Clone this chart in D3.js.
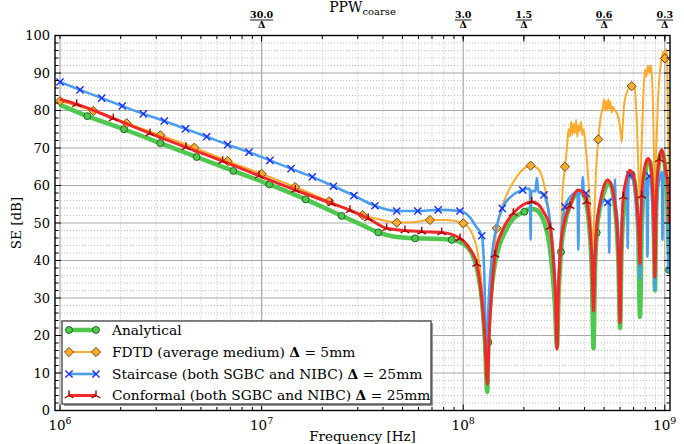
<!DOCTYPE html>
<html><head><meta charset="utf-8">
<script src="https://cdn.jsdelivr.net/npm/d3@7"></script>
<style>
body{margin:0;background:#fff}
svg{display:block}
text{font-family:"DejaVu Serif",serif;fill:#000}
</style>
</head><body><svg id="c" width="684" height="444"></svg>
<script>
// ---------------- DATA (frequency in MHz, SE in dB) ----------------
const yTicks = [0,10,20,30,40,50,60,70,80,90,100];
const xTickExps = [6,7,8,9];
const ppwTicks = [30.0, 3.0, 1.5, 0.6, 0.3];
const ppwLabels = ["30.0","3.0","1.5","0.6","0.3"];
const seriesNames = ["Analytical","FDTD (average medium) ","Staircase (both SGBC and NIBC) ","Conformal (both SGBC and NIBC) "];
const seriesSuffix = ["", " = 5mm", " = 25mm", " = 25mm"];

const analyticalLine = [[1,81.5],[1.366,78.5],[2.077,75.0],[3.145,71.3],[4.76,67.6],[7.24,63.9],[10.92,60.3],[16.55,56.3],[24.96,51.9],[30,50.0],[37.9,47.5],[45,46.4],[57.7,45.9],[70,45.8],[87.7,45.5],[100,44.5],[110,42],[118,37],[124,29],[128,19],[131.7,5],[133.2,18.2],[137,30],[143,38.5],[150,43.5],[160,47.2],[175,50.8],[201,53],[215,53.8],[228,53.6],[242,52.3],[255,49.5],[268,44],[278,36],[285,28],[292,17],[297,30],[305.5,42.3],[320,50],[340,55],[360,57.5],[378,58.3],[395,57.5],[412,54],[425,47],[435,36],[443,16.6],[450,36],[459.5,47.4],[475,53.5],[495,57.5],[515,60],[530,60.6],[545,59.5],[560,56],[575,50],[588,40],[600,22],[610,42],[625,53],[645,59.5],[665,62.5],[685,62.8],[705,61.5],[722,57],[738,47],[753,25],[768,48],[785,58],[805,64],[828,66.8],[850,66],[865,62],[880,50],[894,32],[905,52],[925,63],[945,68],[965,69],[985,68],[1010,63],[1035,52],[1050,37.5]];
const analyticalMarkers = [1.366,2.077,3.145,4.76,7.24,10.92,16.55,24.96,37.9,57.7,87.7,133.2,201,305.5,459.5,685,1050];

const fdtdLine = [[1,82.5],[1.463,79.9],[2.142,76.6],[3.145,73.4],[4.637,70.1],[6.79,66.5],[10.01,63.1],[14.65,59.6],[21.6,55.8],[31.7,52.1],[38,51],[46.8,50.1],[56,50.2],[68.4,50.8],[82,50.8],[100.1,49.9],[110,47.5],[118,42],[124,33],[128,22],[131.5,12],[135,25],[140,38],[146.6,48.6],[160,56],[180,61.5],[200,64.5],[216.1,65.3],[235,64.5],[250,61],[265,54],[278,44],[287,33],[296,22],[303,42],[310,57],[319.9,65],[327,70],[333,75],[338,73],[343,77],[348,73.5],[353,76.5],[358,74],[363,77.5],[368,73],[373,76],[378,74.5],[384,77],[390,73.5],[396,75],[402,72],[412,66],[422,58],[432,49],[440,43],[447,52],[455,63],[468,72.3],[480,78],[494,81],[500,83],[506,80],[512,82.5],[518,80],[524,83],[530,80.5],[537,82.5],[544,79.5],[552,81],[566,80],[582,79],[598,76],[605,74],[611,71.5],[617,75],[630,82],[650,85],[672,86.3],[685,86.5],[700,87],[712,85],[725,78],[740,64],[753,56],[765,68],[780,82],[797,91],[810,89],[825,92],[840,90],[852,92],[864,89],[875,80],[885,67],[894,57],[905,68],[925,83],[945,90],[965,94],[983,95.7],[1002,93.9],[1015,96.3],[1025,95],[1037,78],[1050,60]];
const fdtdMarkers = [1.0,1.463,2.142,3.145,4.637,6.79,10.01,14.65,21.6,31.7,46.8,68.4,100.1,146.6,216.1,319.9,468,685,1002];

const staircaseLine = [[1,87.6],[1.257,85.5],[1.61,83.3],[2.037,81.2],[2.59,79.1],[3.29,77.2],[4.2,75.1],[5.34,73],[6.79,70.9],[8.66,68.9],[11.0,66.7],[14.0,64.5],[17.84,62.3],[22.7,59.8],[28.7,57.3],[36.5,54.6],[46.8,53.2],[59.5,53.2],[75.2,53.5],[96.4,53.2],[108,51.5],[116,49],[123.6,46.6],[127,38],[130.5,14],[134,30],[140,43],[148,50],[156.3,53.9],[175,57.3],[197.3,58.8],[212,59.2],[214.5,58.5],[216,45.5],[217.5,58.5],[228,58.5],[232,62],[236,58.2],[244,58],[251.6,57.5],[262,54.5],[273,48],[282,40],[288,30],[292,20],[297,33],[305,45],[312,51],[319.9,54.3],[340,57],[362,58],[369,58],[372.4,42.8],[376,58],[388,58.2],[392,62.3],[396,58.2],[406.5,57.9],[418,54],[428,47],[436,38],[443,28],[449,40],[457,48],[470,53],[490,55.5],[505,56],[521,55.5],[526,56],[530,42],[534,56],[550,56.5],[562,56],[566,61.7],[570,55.5],[582,51],[592,42],[600,30],[607,44],[618,54],[635,59],[650,61],[655,43.3],[660,61.5],[672,62.8],[690,62],[710,58.5],[728,52],[742,45],[753,35],[762,47],[775,55],[795,59.5],[812,61.5],[820,41],[828,62],[837.6,62.5],[855,60],[870,54],[884,45],[894,32],[902,48],[915,57],[935,61],[955,63],[968,63.5],[974,45.5],[980,63.5],[1000,63],[1020,62],[1038,61],[1045,37],[1052,60],[1061,60.4]];
const staircaseMarkers = [1,1.257,1.61,2.037,2.59,3.29,4.2,5.34,6.79,8.66,11.0,14.0,17.84,22.7,28.7,36.5,46.8,59.5,75.2,96.4,123.6,156.3,197.3,251.6,319.9,406.5,521,672,837.6,1061];

const conformalLine = [[1,83.0],[1.21,81.7],[1.838,77.9],[2.795,73.9],[4.217,70.2],[6.41,66.5],[9.71,62.6],[14.7,58.8],[22.3,55.2],[27.45,53.4],[33.8,51.2],[41.7,48.6],[51.4,48],[62.3,47.7],[78.2,47.5],[96.4,45.9],[108,43],[116.7,39.1],[123,31],[128,20],[131.7,7],[135,22],[139,33],[143.8,41.5],[155,47.5],[177.3,52.6],[200,55],[218.7,55.7],[235,55],[250,53],[269.6,48.9],[280,40],[287,30],[292,16.4],[297,32],[305,44],[320,51],[338.6,54.5],[355,57.5],[371,58.8],[390,58.3],[410,55.7],[425,49],[435,40],[443,26.5],[450,40],[460,49],[480,56],[500,60],[520,61.5],[540,60.5],[560,57],[578,50],[592,38],[600,23.4],[608,42],[622.6,57],[640,61],[670,64.1],[700,62.5],[725,56],[742,48],[753,39],[760,50],[768,57.3],[785,63],[810,66.5],[828,67.2],[850,65.5],[868,60],[882,50],[894,35.5],[905,55],[920,63],[939,67],[965,69.6],[990,67],[1010,64],[1035,60],[1050,50]];
const conformalMarkers = [1.21,1.838,2.795,4.217,6.41,9.71,14.7,22.3,27.45,33.8,41.7,51.4,62.3,78.2,96.4,116.7,143.8,177.3,218.7,269.6,338.6,410,622.6,768,939];

// ---------------- LAYOUT ----------------
const svg = d3.select("#c");
const L = 55, R = 670, T = 35.5, B = 410.5;
const x = d3.scaleLog().domain([1e6, 1e9]).range([60, 664.8]);
const y = d3.scaleLinear().domain([0, 100]).range([B, T]);
const MHz = 1e6, C0 = 3e8;

const series = [
  {line: analyticalLine, marks: analyticalMarkers, color: "#4fc84f", width: 4.5, marker: "o", mfill: "#4fc84f", mstroke: "#1d5a1d"},
  {line: fdtdLine, marks: fdtdMarkers, color: "#fbab2d", width: 2, marker: "D", mfill: "#fbab2d", mstroke: "#5a3a00"},
  {line: staircaseLine, marks: staircaseMarkers, color: "#4a9ef0", width: 2.6, marker: "x", mfill: "none", mstroke: "#1a30f0"},
  {line: conformalLine, marks: conformalMarkers, color: "#f02828", width: 3, marker: "tri", mfill: "none", mstroke: "#a00000"}
];

const minorX = [];
xTickExps.slice(0, 3).forEach(e => { for (let k = 2; k <= 9; k++) minorX.push(k * Math.pow(10, e)); });
const minorY = d3.range(0, 101, 2).filter(v => v % 10 !== 0);

svg.append("rect").attr("x",0).attr("y",0).attr("width",684).attr("height",444).attr("fill","#fff");

const grid = svg.append("g");
minorX.forEach(f => grid.append("line").attr("x1",x(f)).attr("x2",x(f)).attr("y1",T).attr("y2",B)
  .attr("stroke","#bdbdbd").attr("stroke-width",1).attr("stroke-dasharray","1,2"));
minorY.forEach(v => grid.append("line").attr("x1",L).attr("x2",R).attr("y1",y(v)).attr("y2",y(v))
  .attr("stroke","#bdbdbd").attr("stroke-width",1).attr("stroke-dasharray","1,2"));
xTickExps.forEach(e => grid.append("line").attr("x1",x(Math.pow(10,e))).attr("x2",x(Math.pow(10,e))).attr("y1",T).attr("y2",B)
  .attr("stroke","#a8a8a8").attr("stroke-width",1.2));
yTicks.slice(1,-1).forEach(v => grid.append("line").attr("x1",L).attr("x2",R).attr("y1",y(v)).attr("y2",y(v))
  .attr("stroke","#a8a8a8").attr("stroke-width",1.2));

svg.append("clipPath").attr("id","clip").append("rect").attr("x",L).attr("y",T).attr("width",R-L).attr("height",B-T);

function valueAt(line, f) {
  for (let i = 0; i < line.length - 1; i++) {
    const a = line[i], b = line[i+1];
    if (f >= a[0] && f <= b[0]) {
      const t = (Math.log(f) - Math.log(a[0])) / (Math.log(b[0]) - Math.log(a[0]));
      return a[1] + t * (b[1] - a[1]);
    }
  }
  return line[line.length-1][1];
}

function markerPath(type) {
  if (type === "o") return d3.symbol(d3.symbolCircle, 38)();
  if (type === "D") { const r = 4.6; return `M0,${-r}L${r},0L0,${r}L${-r},0Z`; }
  if (type === "x") { const r = 3.6; return `M${-r},${-r}L${r},${r}M${-r},${r}L${r},${-r}`; }
  const r = 5; return `M0,0L0,${-r}M0,0L${-r*0.866},${r*0.5}M0,0L${r*0.866},${r*0.5}`;
}

const lineGen = d3.line().x(d => x(d[0]*MHz)).y(d => y(d[1])).curve(d3.curveMonotoneX);
const plot = svg.append("g").attr("clip-path","url(#clip)");
series.forEach(s => {
  plot.append("path").datum(s.line).attr("d", lineGen).attr("fill","none")
    .attr("stroke", s.color).attr("stroke-width", s.width).attr("stroke-linejoin","round");
  plot.selectAll(null).data(s.marks).enter().append("path")
    .attr("transform", f => `translate(${x(f*MHz)},${y(valueAt(s.line, f))})`)
    .attr("d", markerPath(s.marker))
    .attr("fill", s.mfill).attr("stroke", s.mstroke).attr("stroke-width", s.marker==="x"||s.marker==="tri"?1.4:0.9);
});

const ax = svg.append("g").attr("stroke","#000");
function tick(x1,y1,x2,y2,w){ ax.append("line").attr("x1",x1).attr("y1",y1).attr("x2",x2).attr("y2",y2).attr("stroke-width",w||1); }
xTickExps.forEach(e => { const px = x(Math.pow(10,e)); tick(px,B,px,B-6); tick(px,T,px,T+3.5); });
minorX.forEach(f => { const px = x(f); tick(px,B,px,B-3.5); tick(px,T,px,T+3.5); });
ppwTicks.forEach(l => { const px = x(C0/l); tick(px,T,px,T+6); });
yTicks.forEach(v => { tick(L,y(v),L+6,y(v)); tick(R,y(v),R-6,y(v)); });
minorY.forEach(v => { tick(L,y(v),L+3.5,y(v)); tick(R,y(v),R-3.5,y(v)); });
svg.append("rect").attr("x",L).attr("y",T).attr("width",R-L).attr("height",B-T)
  .attr("fill","none").attr("stroke","#000").attr("stroke-width",1.4);

yTicks.forEach(v => svg.append("text").attr("x",50).attr("y",y(v)+4.5).attr("text-anchor","end")
  .attr("font-size",13).text(v));
xTickExps.forEach(e => {
  const t = svg.append("text").attr("x", x(Math.pow(10,e))).attr("y", 430).attr("text-anchor","middle").attr("font-size",13.5);
  t.append("tspan").text("10");
  t.append("tspan").attr("dy",-6).attr("font-size",9.5).text(e);
});
svg.append("text").attr("x",362.5).attr("y",441).attr("text-anchor","middle").attr("font-size",13.5).text("Frequency [Hz]");
svg.append("text").attr("transform","translate(21,223) rotate(-90)").attr("text-anchor","middle").attr("font-size",13.5).text("SE [dB]");

const ppwT = svg.append("text").attr("x",362.5).attr("y",12).attr("text-anchor","middle").attr("font-size",14);
ppwT.append("tspan").text("PPW");
ppwT.append("tspan").attr("dy",2.5).attr("font-size",10).text("coarse");
ppwTicks.forEach((l,i) => {
  const px = x(C0/l);
  const num = svg.append("text").attr("x",px).attr("y",18).attr("text-anchor","middle")
    .attr("font-size",9.5).attr("font-weight","bold").text(ppwLabels[i]);
  const w = num.node().getComputedTextLength();
  svg.append("line").attr("x1",px-w/2).attr("x2",px+w/2).attr("y1",20).attr("y2",20).attr("stroke","#000").attr("stroke-width",0.9);
  svg.append("text").attr("x",px).attr("y",28).attr("text-anchor","middle")
    .attr("font-size",9.5).attr("font-weight","bold").text("Δ");
});

const lg = svg.append("g");
const lx = 62, ly = 321, lw = 369, lh = 83;
lg.append("rect").attr("x",lx+2).attr("y",ly+2).attr("width",lw).attr("height",lh).attr("fill","#9a9a9a");
lg.append("rect").attr("x",lx).attr("y",ly).attr("width",lw).attr("height",lh).attr("fill","#fff").attr("stroke","#333").attr("stroke-width",1.2);
const rowY = [330, 352, 374, 395.5];
series.forEach((s,i) => {
  const yy = rowY[i];
  lg.append("line").attr("x1",69).attr("x2",96).attr("y1",yy).attr("y2",yy).attr("stroke",s.color).attr("stroke-width",s.width);
  [69,96].forEach(px => lg.append("path").attr("transform",`translate(${px},${yy})`).attr("d",markerPath(s.marker))
    .attr("fill",s.mfill).attr("stroke",s.mstroke).attr("stroke-width", s.marker==="x"||s.marker==="tri"?1.4:0.9));
  const t = lg.append("text").attr("x",112).attr("y",yy+4.8).attr("font-size",13.8);
  t.append("tspan").text(seriesNames[i]);
  if (seriesSuffix[i]) {
    t.append("tspan").attr("font-weight","bold").text("Δ");
    t.append("tspan").text(seriesSuffix[i]);
  }
});
</script>
</body></html>
